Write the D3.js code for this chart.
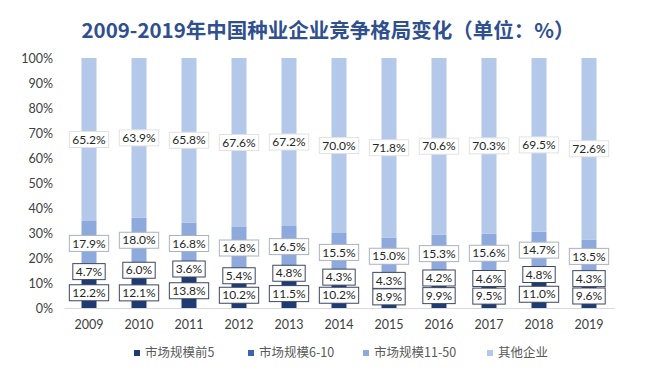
<!DOCTYPE html>
<html>
<head>
<meta charset="utf-8">
<script src="https://cdn.jsdelivr.net/npm/d3@7"></script>
<style>
  body { margin: 0; background: #fff; }
  text { font-family: Lato, "Noto Sans CJK SC", sans-serif; }
</style>
</head>
<body>
<div id="chart"></div>
<script>
// years on the x axis
const years = ["2009", "2010", "2011", "2012", "2013", "2014", "2015", "2016", "2017", "2018", "2019"];

// series values (%)
const top5 = [12.2, 12.1, 13.8, 10.2, 11.5, 10.2, 8.9, 9.9, 9.5, 11.0, 9.6];
const rank6to10 = [4.7, 6.0, 3.6, 5.4, 4.8, 4.3, 4.3, 4.2, 4.6, 4.8, 4.3];
const rank11to50 = [17.9, 18.0, 16.8, 16.8, 16.5, 15.5, 15.0, 15.3, 15.6, 14.7, 13.5];
const others = [65.2, 63.9, 65.8, 67.6, 67.2, 70.0, 71.8, 70.6, 70.3, 69.5, 72.6];

const seriesNames = ["市场规模前5", "市场规模6-10", "市场规模11-50", "其他企业"];
const yTicks = [0, 10, 20, 30, 40, 50, 60, 70, 80, 90, 100];

const colors = ["#1f3b73", "#3a63b4", "#8eaadc", "#b4c8ea"];
const boxBorders = ["#3b4660", "#3b4660", "#aab2c0", "#e2e2e2"];

const chartOptions = {
  svg_width: 650,
  svg_height: 372,
  plot: { left: 64, right: 614, top: 58, bottom: 308 }
};

const seriesData = [top5, rank6to10, rank11to50, others];
const table = years.map((y, i) => {
  const row = { year: y };
  seriesNames.forEach((s, k) => row[s] = seriesData[k][i]);
  return row;
});

const svg = d3.select("#chart")
  .append("svg")
  .attr("width", chartOptions.svg_width)
  .attr("height", chartOptions.svg_height);

// title
svg.append("text")
  .attr("x", 328)
  .attr("y", 38)
  .attr("text-anchor", "middle")
  .style("font-family", "'Noto Sans CJK SC', sans-serif")
  .style("font-weight", "bold")
  .style("font-size", "20.5px")
  .style("fill", "#2f4f8f")
  .text("2009-2019年中国种业企业竞争格局变化（单位：%）");

const p = chartOptions.plot;

const xScale = d3.scaleBand()
  .domain(years)
  .range([p.left, p.right])
  .paddingInner(0.7)
  .paddingOuter(0.35);

const yScale = d3.scaleLinear()
  .domain([0, 100])
  .range([p.bottom, p.top]);

// y axis labels
const yAxis = svg.append("g")
  .attr("transform", "translate(" + (p.left - 4) + ",0)")
  .call(d3.axisLeft(yScale).tickValues(yTicks).tickFormat(d => d + "%").tickSize(0).tickPadding(7));
yAxis.select(".domain").remove();
yAxis.selectAll("text")
  .style("font-family", "Lato, sans-serif")
  .style("font-size", "12.5px")
  .style("fill", "#404040");

// x axis
const xAxis = svg.append("g")
  .attr("transform", "translate(0," + p.bottom + ")")
  .call(d3.axisBottom(xScale).tickSize(0).tickPadding(12));
xAxis.select(".domain").attr("stroke", "#d9d9d9");
xAxis.selectAll("text")
  .style("font-family", "Lato, sans-serif")
  .style("font-size", "12.5px")
  .style("fill", "#404040");

const stackedData = d3.stack().keys(seriesNames)(table);

// bars
const series = svg.selectAll("g.series")
  .data(stackedData)
  .enter()
  .append("g")
  .attr("class", "series")
  .style("fill", (d, i) => colors[i]);

series.selectAll("rect")
  .data(d => d)
  .enter()
  .append("rect")
  .attr("x", d => xScale(d.data.year))
  .attr("width", xScale.bandwidth())
  .attr("y", d => yScale(d[1]))
  .attr("height", d => yScale(d[0]) - yScale(d[1]));

// data labels in boxes
stackedData.forEach((s, k) => {
  const g = svg.append("g").attr("class", "labels");
  s.forEach(d => {
    const cx = xScale(d.data.year) + xScale.bandwidth() / 2;
    const cy = yScale((d[0] + d[1]) / 2);
    const lg = g.append("g");
    const rect = lg.append("rect")
      .attr("fill", "#fff")
      .attr("stroke", boxBorders[k])
      .attr("stroke-width", 1);
    const t = lg.append("text")
      .attr("x", cx)
      .attr("y", cy)
      .attr("dy", "0.35em")
      .attr("text-anchor", "middle")
      .style("font-family", "Lato, sans-serif")
      .style("font-size", "12px")
      .style("fill", "#262626")
      .text(d.data[s.key].toFixed(1) + "%");
    const w = t.node().getComputedTextLength() + 6;
    rect.attr("x", cx - w / 2)
      .attr("y", cy - 8)
      .attr("width", w)
      .attr("height", 16);
  });
});

// legend
const legendX = [134, 248, 363, 487];
const legend = svg.selectAll(".legend")
  .data(seriesNames)
  .enter().append("g")
  .attr("class", "legend")
  .attr("transform", (d, i) => "translate(" + legendX[i] + ",353)");

legend.append("rect")
  .attr("x", 0)
  .attr("y", -3)
  .attr("width", 6)
  .attr("height", 6)
  .style("fill", (d, i) => colors[i]);

legend.append("text")
  .attr("x", 11)
  .attr("y", 0)
  .attr("dy", "0.35em")
  .style("font-family", "'Noto Sans CJK SC', sans-serif")
  .style("font-size", "12.5px")
  .style("fill", "#595959")
  .text(d => d);
</script>
</body>
</html>
